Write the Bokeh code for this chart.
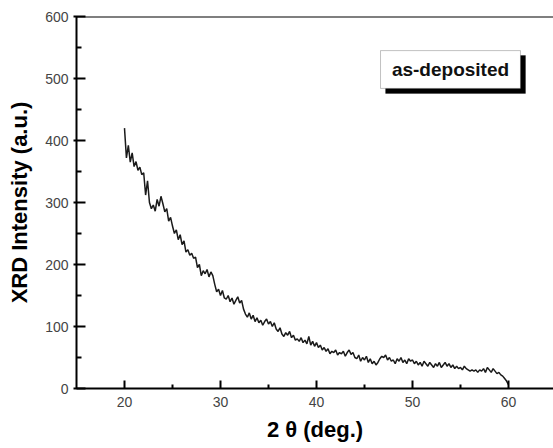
from bokeh.plotting import figure
from bokeh.models import FixedTicker, Span, BoxAnnotation, Label, Range1d
from bokeh.embed import file_html
from bokeh.resources import INLINE

# 2-theta scan positions (deg.)
two_theta = [
    20.0, 20.2, 20.4, 20.6, 20.8, 21.0, 21.2, 21.4, 21.6, 21.8,
    22.0, 22.2, 22.4, 22.6, 22.8, 23.0, 23.2, 23.4, 23.6, 23.8,
    24.0, 24.2, 24.4, 24.6, 24.8, 25.0, 25.2, 25.4, 25.6, 25.8,
    26.0, 26.2, 26.4, 26.6, 26.8, 27.0, 27.2, 27.4, 27.6, 27.8,
    28.0, 28.2, 28.4, 28.6, 28.8, 29.0, 29.2, 29.4, 29.6, 29.8,
    30.0, 30.2, 30.4, 30.6, 30.8, 31.0, 31.2, 31.4, 31.6, 31.8,
    32.0, 32.2, 32.4, 32.6, 32.8, 33.0, 33.2, 33.4, 33.6, 33.8,
    34.0, 34.2, 34.4, 34.6, 34.8, 35.0, 35.2, 35.4, 35.6, 35.8,
    36.0, 36.2, 36.4, 36.6, 36.8, 37.0, 37.2, 37.4, 37.6, 37.8,
    38.0, 38.2, 38.4, 38.6, 38.8, 39.0, 39.2, 39.4, 39.6, 39.8,
    40.0, 40.2, 40.4, 40.6, 40.8, 41.0, 41.2, 41.4, 41.6, 41.8,
    42.0, 42.2, 42.4, 42.6, 42.8, 43.0, 43.2, 43.4, 43.6, 43.8,
    44.0, 44.2, 44.4, 44.6, 44.8, 45.0, 45.2, 45.4, 45.6, 45.8,
    46.0, 46.2, 46.4, 46.6, 46.8, 47.0, 47.2, 47.4, 47.6, 47.8,
    48.0, 48.2, 48.4, 48.6, 48.8, 49.0, 49.2, 49.4, 49.6, 49.8,
    50.0, 50.2, 50.4, 50.6, 50.8, 51.0, 51.2, 51.4, 51.6, 51.8,
    52.0, 52.2, 52.4, 52.6, 52.8, 53.0, 53.2, 53.4, 53.6, 53.8,
    54.0, 54.2, 54.4, 54.6, 54.8, 55.0, 55.2, 55.4, 55.6, 55.8,
    56.0, 56.2, 56.4, 56.6, 56.8, 57.0, 57.2, 57.4, 57.6, 57.8,
    58.0, 58.2, 58.4, 58.6, 58.8, 59.0, 59.2, 59.4, 59.6, 59.8,
    60.0,
]

# XRD intensity (a.u.)
intensity = [
    420, 372, 392, 365, 380, 358, 366, 352, 357, 345,
    348, 312, 335, 300, 290, 296, 286, 305, 294, 310,
    298, 285, 290, 270, 276, 262, 250, 256, 240, 248,
    232, 238, 220, 224, 215, 218, 210, 212, 195, 200,
    182, 190, 185, 192, 180, 188, 182, 168, 156, 160,
    150, 158, 146, 144, 150, 140, 146, 136, 142, 148,
    138, 142, 128, 120, 115, 122, 112, 118, 108, 114,
    106, 110, 102, 108, 112, 104, 108, 100, 106, 96,
    92, 98, 88, 84, 90, 86, 92, 82, 86, 78,
    80, 76, 82, 74, 78, 72, 84, 70, 76, 68,
    74, 66, 70, 62, 66, 60, 64, 56, 60, 58,
    62, 54, 58, 56, 60, 52, 58, 62, 55, 58,
    50, 48, 54, 44, 50, 46, 52, 42, 48, 40,
    44, 38, 42, 48, 52, 50, 54, 46, 50, 44,
    46, 40, 48, 44, 50, 42, 46, 40, 48, 44,
    46, 40, 44, 38, 42, 36, 44, 40, 36, 42,
    38, 34, 40, 36, 42, 34, 38, 42, 36, 40,
    34, 38, 32, 36, 32, 34, 30, 36, 32, 30,
    28, 30, 28, 30, 26, 30, 28, 32, 26, 34,
    30, 26, 32, 28, 24, 26, 22, 20, 16, 12,
    6,
]

y_ticks = [0, 100, 200, 300, 400, 500, 600]
y_minor = [50, 150, 250, 350, 450, 550]
x_ticks = [20, 30, 40, 50, 60]
x_minor = [25, 35, 45, 55]

FONT = "Liberation Sans"

p = figure(width=553, height=448, output_backend="svg", toolbar_location=None,
           x_range=Range1d(15, 64.69), y_range=Range1d(0, 600),
           min_border_left=76, min_border_right=0, min_border_top=16,
           min_border_bottom=60)
p.outline_line_color = None
p.grid.visible = False
p.background_fill_color = "white"
p.border_fill_color = "white"

p.line(two_theta, intensity, line_color="#1a1a1a", line_width=1.5)

for ax in (p.xaxis[0], p.yaxis[0]):
    ax.axis_line_width = 2
    ax.axis_line_color = "black"
    ax.major_tick_line_width = 2
    ax.minor_tick_line_width = 2
    ax.major_tick_line_color = "black"
    ax.minor_tick_line_color = "black"
    ax.major_label_text_font = FONT
    ax.major_label_text_font_size = "14px"
    ax.major_label_text_color = "#444444"
    ax.axis_label_text_font = FONT
    ax.axis_label_text_font_style = "bold"
    ax.axis_label_text_font_size = "22px"
    ax.axis_label_text_color = "black"

p.yaxis.ticker = FixedTicker(ticks=y_ticks, minor_ticks=y_minor)
p.yaxis.major_tick_in = 9
p.yaxis.major_tick_out = 3
p.yaxis.minor_tick_in = 5
p.yaxis.minor_tick_out = 0
p.yaxis.major_label_standoff = 5
p.yaxis.axis_label = "XRD Intensity (a.u.)"
p.yaxis.axis_label_standoff = 10

p.xaxis.ticker = FixedTicker(ticks=x_ticks, minor_ticks=x_minor)
p.xaxis.major_tick_in = 8
p.xaxis.major_tick_out = 0
p.xaxis.minor_tick_in = 4
p.xaxis.minor_tick_out = 0
p.xaxis.major_label_standoff = 8
p.xaxis.axis_label = "2 \u03b8 (deg.)"
p.xaxis.axis_label_standoff = 7

# top frame line
p.add_layout(Span(location=600, dimension="width", line_color="black", line_width=2))

# legend-like box with drop shadow
p.add_layout(BoxAnnotation(left=47.2, right=61.77, top=537, bottom=476,
                           fill_color="black", fill_alpha=1.0, line_color="black"))
p.add_layout(BoxAnnotation(left=46.67, right=61.25, top=545, bottom=484,
                           fill_color="white", fill_alpha=1.0,
                           line_color="#333333", line_width=1))
p.add_layout(Label(x=53.96, y=514.5, text="as-deposited", text_align="center",
                   text_baseline="middle", text_font=FONT, text_font_style="bold",
                   text_font_size="19px", text_color="#111111"))

open("out.html", "w").write(file_html(p, INLINE))
